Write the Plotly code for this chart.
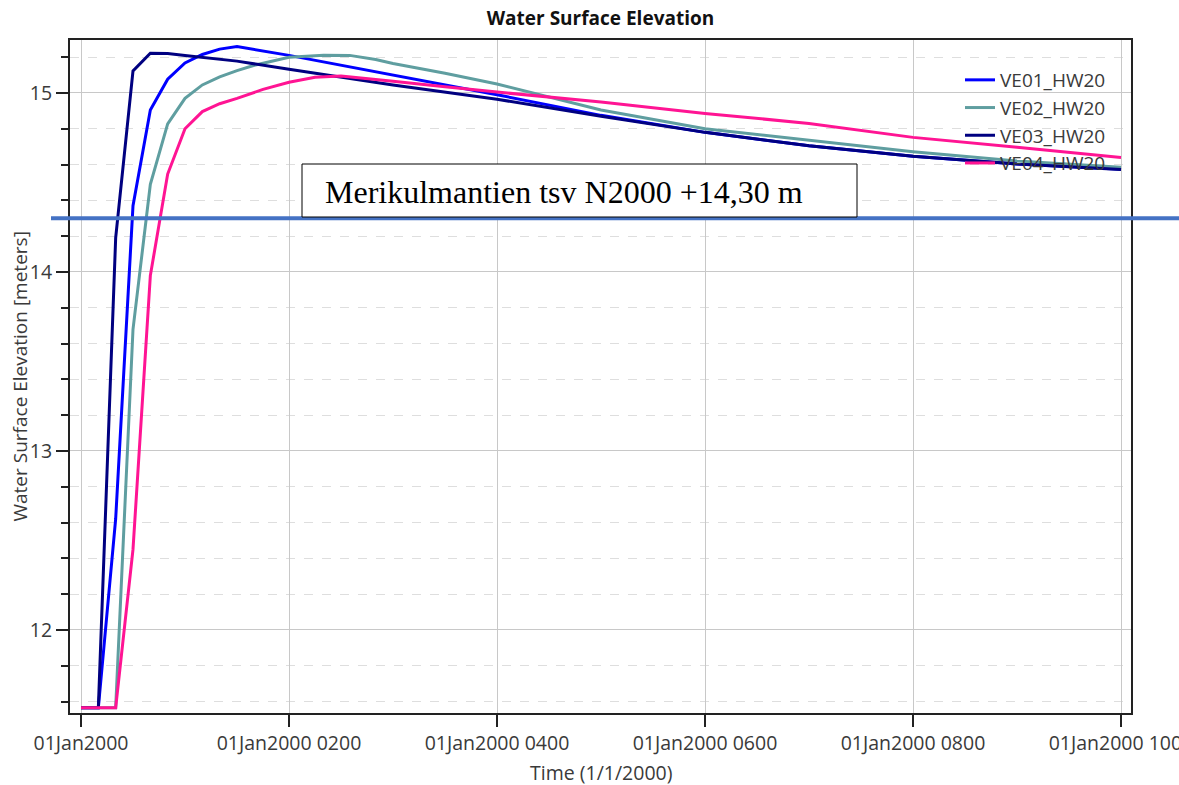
import pandas as pd
import plotly.graph_objects as go

# Simulation output: time in minutes after 01Jan2000 00:00, water surface elevation in metres
t_ve01 = [0, 10, 20, 30, 40, 50, 60, 70, 80, 90, 120, 180, 240, 300, 360, 420, 480, 540, 600]
wse_ve01 = [11.565, 11.565, 12.62, 14.37, 14.905, 15.077, 15.168, 15.215, 15.245, 15.259,
            15.21, 15.10, 14.99, 14.875, 14.78, 14.705, 14.647, 14.603, 14.574]

t_ve02 = [0, 10, 20, 30, 40, 50, 60, 70, 80, 90, 100, 120, 140, 155, 170, 180, 210, 240,
          300, 360, 420, 480, 540, 600]
wse_ve02 = [11.565, 11.565, 11.565, 13.68, 14.49, 14.827, 14.97, 15.045, 15.09, 15.125, 15.155,
            15.20, 15.211, 15.21, 15.187, 15.165, 15.11, 15.05, 14.905, 14.80, 14.737, 14.672,
            14.62, 14.585]

t_ve03 = [0, 10, 20, 30, 40, 50, 60, 90, 120, 180, 240, 300, 360, 420, 480, 540, 600]
wse_ve03 = [11.565, 11.565, 14.19, 15.123, 15.222, 15.22, 15.21, 15.178, 15.132, 15.045,
            14.965, 14.87, 14.78, 14.705, 14.647, 14.603, 14.572]

t_ve04 = [0, 10, 20, 30, 40, 50, 60, 70, 80, 90, 105, 120, 135, 150, 165, 180, 210, 240,
          300, 360, 420, 480, 540, 600]
wse_ve04 = [11.565, 11.565, 11.565, 12.45, 13.98, 14.547, 14.80, 14.896, 14.94, 14.97, 15.02,
            15.06, 15.088, 15.095, 15.082, 15.065, 15.035, 15.005, 14.95, 14.886, 14.83,
            14.752, 14.697, 14.64]

series_names = ["VE01_HW20", "VE02_HW20", "VE03_HW20", "VE04_HW20"]
series_colors = ["#0000FF", "#5F9EA0", "#000080", "#FF1493"]

# Reference level of the road (N2000)
road_level = 14.30
road_label = "Merikulmantien tsv N2000 +14,30 m"

tick_hours = [0, 2, 4, 6, 8, 10]
tick_labels = ["01Jan2000", "01Jan2000 0200", "01Jan2000 0400",
               "01Jan2000 0600", "01Jan2000 0800", "01Jan2000 1000"]

base = pd.Timestamp("2000-01-01 00:00")


def to_time(minutes):
    return base + pd.to_timedelta(minutes, unit="m")


W, H = 1179, 785
L, R, T, B = 70, 1131, 40, 713  # plot area in pixels


def px_x(p):
    return (p - L) / (R - L)


def px_y(p):
    return (B - p) / (B - T)


fig = go.Figure()
for name, color, t, v in zip(series_names, series_colors,
                             [t_ve01, t_ve02, t_ve03, t_ve04],
                             [wse_ve01, wse_ve02, wse_ve03, wse_ve04]):
    fig.add_trace(go.Scatter(x=to_time(t), y=v, mode="lines", name=name,
                             line=dict(color=color, width=3)))

font_ui = "Open Sans"
text_col = "#3a3a3a"
axis_col = "#222222"

fig.update_layout(
    width=W, height=H,
    margin=dict(l=L, r=W - R, t=T, b=H - B, autoexpand=False),
    paper_bgcolor="white", plot_bgcolor="white",
    font=dict(family=font_ui, size=19, color=text_col),
    title=dict(text="<b>Water Surface Elevation</b>", x=0.5, xref="paper",
               y=1 - 18 / H, yanchor="middle", xanchor="center",
               font=dict(family=font_ui, size=19, color="#111111")),
    showlegend=True,
    legend=dict(x=px_x(960), y=px_y(61), xanchor="left", yanchor="top",
                bgcolor="rgba(0,0,0,0)", font=dict(size=19, color=text_col),
                itemwidth=30, tracegroupgap=0),
)

fig.update_xaxes(
    type="date",
    range=[to_time(-0.1058 * 60), to_time(10.096 * 60)],
    tickmode="array",
    tickvals=[to_time(h * 60) for h in tick_hours],
    ticktext=tick_labels,
    ticklabeloverflow="allow",
    automargin=False,
    ticks="outside", ticklen=12, tickcolor=axis_col, tickwidth=1.5,
    showgrid=True, gridcolor="#c8c8c8", gridwidth=1,
    showline=True, linecolor=axis_col, linewidth=2, mirror=True,
    zeroline=False,
    tickfont=dict(size=19.5, color=text_col),
)

fig.update_yaxes(
    range=[11.536, 15.296],
    tickmode="linear", tick0=0, dtick=1,
    automargin=False,
    ticks="outside", ticklen=12, tickcolor=axis_col, tickwidth=1.5,
    showgrid=True, gridcolor="#c8c8c8", gridwidth=1,
    minor=dict(tick0=0, dtick=0.2, ticks="outside", ticklen=7, tickcolor=axis_col,
               showgrid=True, gridcolor="#dedede", griddash="dash"),
    showline=True, linecolor=axis_col, linewidth=2, mirror=True,
    zeroline=False,
    tickfont=dict(size=19.5, color=text_col),
)

# Axis titles
fig.add_annotation(text="Time (1/1/2000)", xref="paper", yref="paper",
                   x=0.5, y=px_y(773), xanchor="center", yanchor="middle",
                   showarrow=False, font=dict(size=19.5, color=text_col))
fig.add_annotation(text="Water Surface Elevation [meters]", xref="paper", yref="paper",
                   x=px_x(19), y=0.5, xanchor="center", yanchor="middle", textangle=-90,
                   showarrow=False, font=dict(size=19, color=text_col))

# Road level line across the figure and its label box
fig.add_shape(type="line", xref="paper", yref="y", x0=px_x(51), x1=px_x(W),
              y0=road_level, y1=road_level, line=dict(color="#4472C4", width=4),
              layer="above")
fig.add_shape(type="rect", xref="paper", yref="paper",
              x0=px_x(302), x1=px_x(857), y0=px_y(217), y1=px_y(164),
              line=dict(color="black", width=1), fillcolor="white", layer="above")
fig.add_annotation(text=road_label, xref="paper", yref="paper",
                   x=px_x(323), y=px_y(192), xanchor="left", yanchor="middle",
                   showarrow=False,
                   font=dict(family="Liberation Serif", size=32, color="black"))

fig.write_html("out.html")
